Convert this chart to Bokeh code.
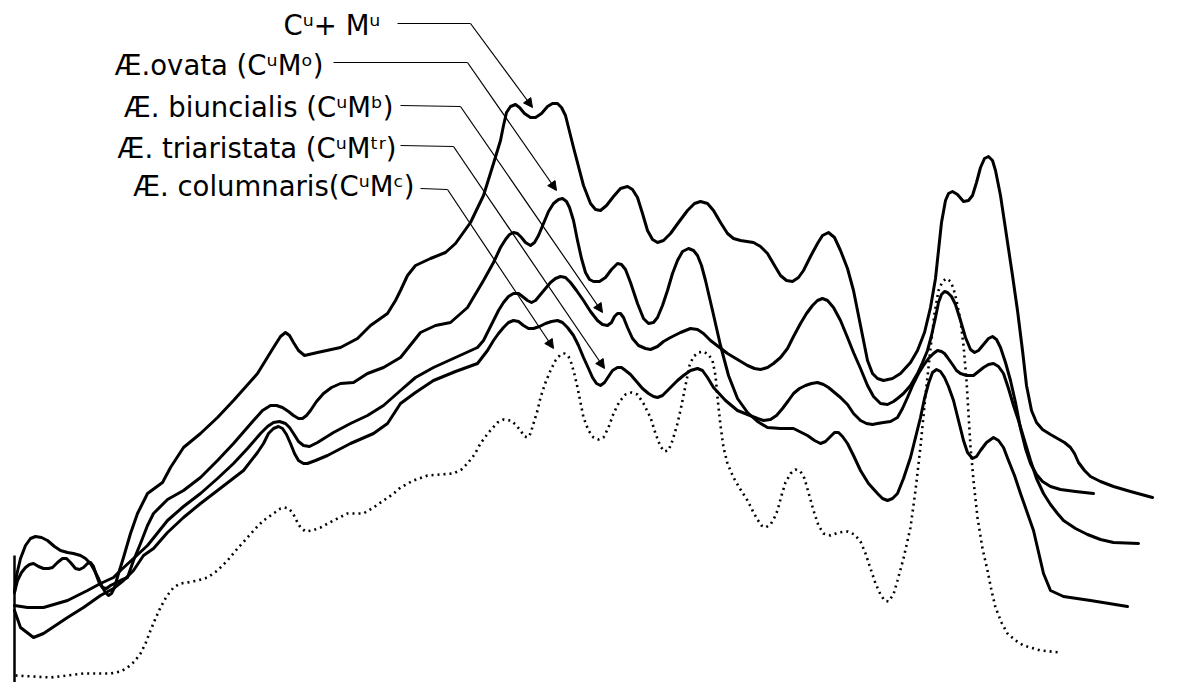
from bokeh.plotting import figure
from bokeh.models import Range1d, Arrow, NormalHead, Label
from bokeh.embed import file_html
from bokeh.resources import INLINE

# Densitometer traces. x = migration distance, y = pen position measured downward (chart units)
cu_mu_x = [14, 16, 20, 25, 30, 35, 41, 47, 54, 60, 67, 73, 80, 85, 90, 94, 98, 102, 105, 108, 111, 114, 118, 123, 130, 137, 147, 162, 170, 183, 200, 217, 233, 257, 273, 280, 285, 289, 293, 298, 304, 317, 340, 357, 370, 387, 395, 400, 407, 415, 430, 445, 455, 470, 483, 493, 500, 503, 506, 510, 515, 519, 524, 530, 535, 541, 547, 552, 557, 561, 565, 568, 573, 583, 590, 595, 600, 606, 613, 620, 627, 632, 637, 642, 647, 652, 657, 663, 670, 678, 687, 694, 700, 707, 713, 720, 727, 733, 740, 753, 760, 767, 774, 780, 786, 792, 798, 803, 810, 817, 822, 828, 834, 840, 847, 853, 858, 863, 867, 872, 877, 883, 892, 900, 910, 917, 924, 930, 935, 938, 941, 945, 948, 952, 957, 963, 968, 972, 976, 980, 984, 988, 992, 995, 1000, 1006, 1012, 1017, 1022, 1026, 1031, 1036, 1042, 1050, 1057, 1064, 1070, 1074, 1078, 1084, 1090, 1100, 1113, 1130, 1152]
cu_mu_y = [592, 575, 558, 545, 538, 536, 537, 540, 546, 550, 552, 553, 555, 558, 563, 570, 578, 587, 592, 595, 593, 587, 573, 557, 533, 513, 493, 482, 467, 447, 433, 417, 400, 373, 347, 336, 332, 335, 342, 350, 355, 352, 347, 338, 325, 313, 300, 290, 275, 265, 258, 252, 243, 222, 195, 163, 140, 125, 112, 106, 104, 107, 113, 117, 117, 113, 106, 103, 103, 107, 115, 127, 147, 185, 203, 209, 210, 205, 196, 188, 186, 189, 197, 213, 230, 239, 242, 240, 233, 222, 210, 203, 201, 203, 210, 222, 233, 238, 240, 242, 246, 253, 265, 275, 280, 281, 277, 270, 256, 243, 235, 232, 237, 250, 268, 290, 315, 340, 360, 373, 378, 380, 378, 373, 362, 350, 332, 307, 278, 250, 222, 200, 193, 191, 194, 201, 200, 195, 182, 167, 158, 156, 160, 170, 195, 235, 275, 310, 350, 385, 410, 422, 429, 434, 438, 442, 447, 453, 462, 470, 476, 481, 486, 491, 497]

ovata_x = [14, 17, 21, 25, 29, 33, 38, 43, 48, 52, 57, 62, 66, 70, 75, 79, 83, 87, 90, 93, 96, 99, 102, 106, 110, 120, 127, 133, 140, 147, 153, 167, 183, 200, 217, 233, 253, 262, 270, 276, 282, 288, 293, 298, 302, 306, 310, 316, 323, 331, 340, 353, 367, 383, 400, 420, 435, 450, 467, 483, 493, 500, 505, 509, 513, 517, 521, 525, 530, 534, 538, 543, 548, 553, 558, 562, 566, 569, 573, 577, 581, 585, 589, 593, 599, 605, 611, 617, 621, 625, 630, 637, 643, 648, 653, 657, 662, 667, 672, 677, 682, 688, 693, 697, 701, 705, 712, 720, 728, 737, 747, 757, 767, 780, 793, 807, 814, 820, 825, 830, 834, 838, 842, 847, 853, 860, 868, 877, 882, 887, 892, 897, 903, 910, 915, 920, 924, 928, 932, 936, 940, 944, 948, 953, 958, 963, 967, 972, 976, 980, 986, 993, 998, 1003, 1008, 1014, 1020, 1033, 1043, 1050, 1063, 1090, 1127]
ovata_y = [592, 580, 572, 567, 564, 563, 566, 568, 568, 567, 562, 558, 558, 562, 568, 569, 567, 563, 562, 566, 575, 583, 587, 588, 585, 580, 577, 560, 543, 525, 513, 499, 490, 477, 460, 443, 420, 410, 405, 405, 407, 411, 415, 418, 418, 415, 410, 401, 393, 387, 383, 382, 373, 367, 357, 332, 325, 322, 307, 280, 262, 247, 239, 234, 232, 233, 237, 242, 245, 242, 235, 223, 211, 203, 199, 198, 201, 207, 220, 240, 258, 272, 279, 281, 281, 277, 269, 263, 264, 269, 282, 303, 318, 323, 322, 317, 305, 290, 273, 260, 251, 248, 250, 255, 265, 280, 310, 345, 375, 398, 412, 421, 427, 428, 428, 435, 440, 443, 441, 436, 432, 432, 436, 443, 455, 470, 483, 493, 498, 500, 498, 493, 478, 457, 437, 417, 398, 383, 372, 369, 371, 377, 386, 400, 420, 440, 452, 458, 456, 450, 442, 437, 440, 447, 460, 475, 493, 530, 573, 590, 596, 600, 606]

biuncialis_x = [14, 27, 43, 67, 87, 100, 113, 120, 133, 147, 167, 183, 200, 217, 233, 247, 260, 267, 273, 279, 285, 289, 293, 298, 303, 309, 317, 333, 350, 367, 383, 400, 415, 433, 455, 477, 483, 488, 493, 498, 503, 508, 513, 518, 522, 527, 531, 535, 540, 545, 550, 555, 560, 565, 570, 576, 583, 590, 597, 602, 607, 611, 614, 617, 620, 623, 627, 632, 638, 645, 650, 657, 663, 670, 680, 690, 697, 703, 710, 727, 747, 754, 760, 767, 773, 780, 787, 793, 800, 806, 812, 817, 822, 827, 833, 840, 847, 853, 860, 867, 873, 880, 887, 893, 897, 903, 910, 917, 922, 927, 931, 935, 938, 941, 944, 947, 951, 955, 960, 965, 970, 974, 978, 983, 988, 992, 996, 1000, 1005, 1010, 1015, 1020, 1025, 1030, 1036, 1042, 1050, 1060, 1075, 1093]
biuncialis_y = [605, 607, 607, 600, 590, 583, 577, 570, 558, 545, 520, 506, 493, 478, 463, 448, 433, 426, 422, 421, 423, 427, 433, 441, 445, 446, 442, 432, 423, 415, 405, 390, 377, 367, 357, 347, 340, 330, 320, 310, 302, 296, 293, 293, 296, 300, 302, 300, 294, 288, 282, 278, 276, 277, 282, 290, 300, 311, 320, 324, 325, 322, 316, 313, 313, 317, 327, 338, 345, 348, 349, 346, 341, 337, 332, 328, 329, 333, 340, 353, 365, 368, 369, 367, 363, 357, 348, 336, 323, 313, 305, 300, 298, 300, 307, 320, 337, 352, 368, 385, 396, 403, 404, 401, 398, 393, 385, 373, 362, 350, 335, 317, 302, 294, 291, 292, 296, 304, 320, 337, 349, 352, 350, 344, 338, 336, 339, 347, 362, 380, 402, 428, 448, 463, 474, 481, 486, 489, 491, 493]

triaristata_x = [14, 20, 33, 43, 67, 83, 100, 113, 123, 133, 143, 153, 167, 183, 200, 217, 243, 257, 263, 268, 273, 278, 282, 286, 290, 294, 298, 303, 307, 315, 327, 350, 373, 387, 400, 415, 433, 455, 477, 487, 493, 498, 503, 508, 513, 518, 523, 528, 533, 539, 545, 551, 557, 562, 567, 573, 578, 583, 588, 592, 596, 600, 604, 608, 612, 617, 621, 625, 630, 636, 642, 648, 653, 657, 662, 667, 672, 677, 683, 690, 697, 702, 707, 713, 725, 737, 757, 763, 770, 776, 782, 788, 793, 799, 805, 811, 817, 823, 828, 834, 840, 847, 853, 860, 866, 872, 877, 883, 890, 897, 902, 907, 913, 918, 923, 928, 933, 937, 941, 944, 947, 952, 956, 960, 966, 973, 978, 983, 988, 993, 998, 1003, 1008, 1013, 1018, 1024, 1030, 1036, 1043, 1050, 1057, 1063, 1075, 1087, 1100, 1113, 1138]
triaristata_y = [610, 627, 637, 633, 617, 607, 595, 588, 580, 570, 555, 548, 532, 517, 503, 490, 470, 452, 443, 433, 428, 426, 428, 434, 443, 453, 460, 463, 463, 460, 455, 443, 433, 423, 403, 392, 380, 371, 363, 350, 340, 333, 327, 322, 320, 321, 325, 328, 328, 326, 323, 321, 320, 322, 327, 335, 345, 357, 368, 377, 383, 385, 382, 376, 370, 367, 367, 370, 374, 381, 388, 393, 396, 397, 395, 390, 385, 380, 375, 370, 368, 370, 377, 387, 400, 410, 418, 420, 419, 415, 408, 400, 393, 388, 385, 383, 382, 384, 387, 392, 397, 404, 413, 420, 423, 424, 423, 422, 421, 417, 408, 397, 383, 373, 365, 358, 353, 350, 351, 353, 357, 364, 370, 373, 375, 375, 371, 367, 364, 363, 366, 373, 388, 405, 420, 440, 460, 478, 493, 504, 513, 520, 528, 534, 539, 542, 543]

columnaris_x = [15, 50, 83, 110, 120, 127, 134, 140, 145, 150, 155, 160, 166, 173, 180, 187, 197, 207, 217, 227, 237, 247, 255, 263, 273, 280, 284, 288, 292, 296, 300, 305, 312, 320, 333, 347, 355, 363, 373, 383, 392, 400, 413, 427, 440, 453, 461, 467, 474, 480, 488, 497, 503, 510, 515, 520, 524, 527, 530, 533, 537, 540, 545, 550, 555, 560, 564, 568, 571, 574, 577, 580, 583, 588, 593, 598, 603, 608, 613, 619, 625, 631, 637, 643, 650, 655, 660, 664, 668, 672, 677, 681, 685, 689, 693, 698, 703, 708, 712, 715, 717, 720, 723, 727, 733, 740, 747, 752, 757, 761, 765, 770, 774, 777, 781, 785, 790, 795, 800, 804, 808, 813, 818, 823, 830, 838, 847, 854, 860, 865, 870, 875, 880, 884, 888, 893, 897, 903, 910, 915, 920, 925, 930, 934, 938, 942, 946, 950, 953, 956, 960, 963, 966, 970, 973, 977, 982, 987, 991, 995, 1001, 1007, 1015, 1023, 1040, 1060]
columnaris_y = [675, 677, 673, 673, 671, 667, 661, 653, 643, 630, 618, 607, 596, 587, 583, 582, 580, 577, 570, 560, 548, 537, 528, 520, 513, 508, 507, 508, 512, 520, 527, 531, 530, 527, 520, 513, 513, 513, 507, 500, 494, 487, 480, 475, 474, 473, 469, 463, 454, 443, 432, 422, 419, 420, 424, 430, 436, 437, 433, 423, 410, 397, 382, 370, 360, 354, 353, 356, 363, 374, 387, 402, 417, 430, 437, 439, 437, 427, 413, 401, 394, 392, 394, 403, 417, 433, 446, 451, 450, 440, 423, 405, 385, 365, 356, 352, 351, 354, 360, 375, 397, 425, 447, 463, 477, 489, 500, 510, 519, 525, 527, 524, 517, 510, 495, 482, 473, 469, 471, 478, 492, 510, 525, 533, 535, 532, 531, 534, 541, 553, 568, 583, 594, 600, 601, 594, 580, 558, 527, 490, 446, 395, 348, 313, 290, 281, 278, 281, 288, 300, 320, 345, 380, 446, 480, 517, 548, 570, 590, 607, 622, 633, 640, 645, 650, 652]

series_labels = ["C\u1d58+ M\u1d58", "\u00c6.ovata (C\u1d58M\u1d52)", "\u00c6. biuncialis (C\u1d58M\u1d47)",
                 "\u00c6. triaristata (C\u1d58M\u1d57\u02b3)", "\u00c6. columnaris(C\u1d58M\u1d9c)"]

# ---- layout of the annotation call-outs (label anchor, leader bend, arrow tip) ----
callouts = [
    dict(tx=380, ty=24, bend=[(397, 23), (470, 23)], tip=(532, 107)),
    dict(tx=323, ty=64, bend=[(333, 62), (467, 62)], tip=(556, 190)),
    dict(tx=393, ty=106, bend=[(400, 105), (460, 106)], tip=(602, 312)),
    dict(tx=396, ty=147, bend=[(400, 145), (453, 146)], tip=(604, 368)),
    dict(tx=414, ty=185, bend=[(420, 188), (447, 189)], tip=(553, 348)),
]

p = figure(width=1197, height=682, output_backend="svg", toolbar_location=None,
           x_range=Range1d(0, 1197), y_range=Range1d(682, 0),
           x_axis_location=None, y_axis_location=None,
           min_border=0, min_border_left=0, min_border_right=0, min_border_top=0, min_border_bottom=0)
p.outline_line_color = None
p.grid.visible = False
p.background_fill_color = "white"
p.border_fill_color = "white"

solid = [(cu_mu_x, cu_mu_y), (ovata_x, ovata_y), (biuncialis_x, biuncialis_y), (triaristata_x, triaristata_y)]
for xs, ys in solid:
    p.line(xs, ys, line_color="black", line_width=3, line_join="round", line_cap="round")
p.line(columnaris_x, columnaris_y, line_color="black", line_width=2.6, line_dash="2 4")

# left edge stub of the recorder trace
p.line([14, 14], [555, 682], line_color="black", line_width=2.5)

for lab, c in zip(series_labels, callouts):
    p.add_layout(Label(x=c["tx"], y=c["ty"], text=lab, text_align="right", text_baseline="middle",
                       text_font="DejaVu Sans", text_font_size="27.5px", text_color="black"))
    (x0, y0), (x1, y1) = c["bend"]
    p.line([x0, x1], [y0, y1], line_color="black", line_width=1.2)
    p.add_layout(Arrow(end=NormalHead(size=9, fill_color="black", line_color="black"),
                       x_start=x1, y_start=y1, x_end=c["tip"][0], y_end=c["tip"][1],
                       line_color="black", line_width=1.2))

open("out.html", "w").write(file_html(p, INLINE))
